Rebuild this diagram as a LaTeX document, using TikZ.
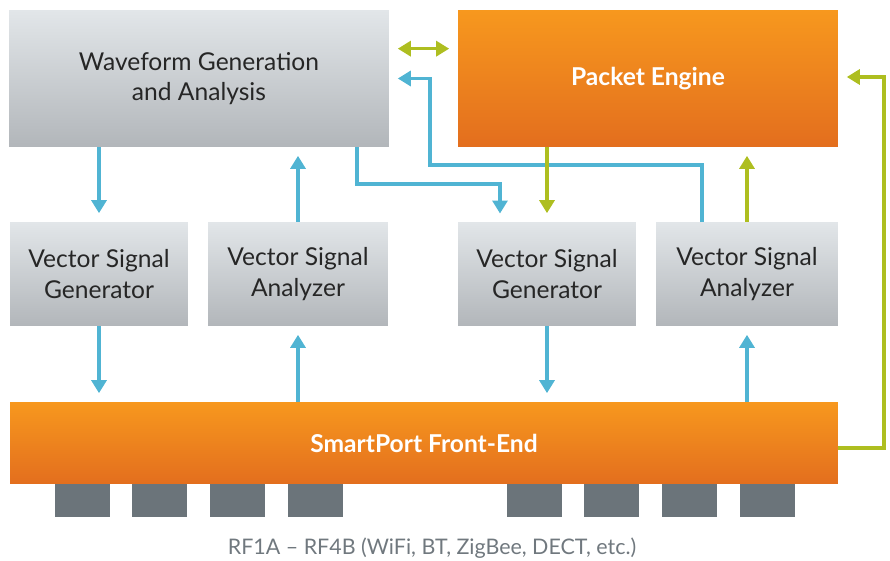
\documentclass[tikz,border=0pt]{standalone}
\usepackage{fontspec}
\setmainfont{Lato}
\usepackage{tikz}
\usetikzlibrary{arrows.meta, calc, positioning}
\definecolor{boxtop}{RGB}{226,230,233}
\definecolor{boxbot}{RGB}{178,182,186}
\definecolor{ortop}{RGB}{247,152,30}
\definecolor{orbot}{RGB}{227,110,30}
\definecolor{sigblue}{RGB}{80,180,211}
\definecolor{siggreen}{RGB}{174,190,32}
\definecolor{portgray}{RGB}{107,116,122}
\definecolor{txtgray}{RGB}{112,120,126}

\begin{document}
\begin{tikzpicture}[x=0.02cm, y=-0.02cm,
    graybox/.style={top color=boxtop, bottom color=boxbot, text=black!85, align=center, inner sep=0, font=\fontsize{14}{17.5}\selectfont},
    orangebox/.style={top color=ortop, bottom color=orbot, text=white, align=center, inner sep=0, font=\fontsize{14}{17.5}\selectfont\bfseries},
    port/.style={fill=portgray, minimum width=1.1cm, minimum height=0.66cm, inner sep=0},
    bluearrow/.style={draw=sigblue, line width=1.8pt, -{Triangle[width=0.3cm,length=0.26cm]}, shorten >=0.17cm},
    greenarrow/.style={draw=siggreen, line width=1.8pt, -{Triangle[width=0.3cm,length=0.26cm]}, shorten >=0.17cm}]

    \useasboundingbox (0,0) rectangle (890,561);

    % Top blocks
    \node[graybox, minimum width=7.6cm, minimum height=2.74cm] (wave) at (199,78.5) {Waveform Generation\\and Analysis};
    \node[orangebox, minimum width=7.6cm, minimum height=2.74cm] (packet) at (648,78.5) {\raisebox{-2pt}{Packet Engine}};

    % Signal generators / analyzers
    \node[graybox, minimum width=3.56cm, minimum height=2.08cm] (vsg1) at (99,274) {Vector Signal\\Generator};
    \node[graybox, minimum width=3.6cm, minimum height=2.08cm] (vsa1) at (298,274) {Vector Signal\\Analyzer};
    \node[graybox, minimum width=3.56cm, minimum height=2.08cm] (vsg2) at (547,274) {Vector Signal\\Generator};
    \node[graybox, minimum width=3.64cm, minimum height=2.08cm] (vsa2) at (747,274) {Vector Signal\\Analyzer};

    % Front-end and RF ports
    \node[orangebox, minimum width=16.56cm, minimum height=1.64cm] (front) at (424,443) {SmartPort Front-End};
    \foreach \px [count=\i] in {82.5,159.5,237.5,315.5,534.5,611.5,689.5,767.5}
        \node[port] (p\i) at (\px,500.5) {};
    \node[text=txtgray, font=\fontsize{12.2}{14.5}\selectfont] (caption) at (432,548) {RF1A – RF4B (WiFi, BT, ZigBee, DECT, etc.)};

    % Bend points
    \coordinate (wtap) at (357,147);
    \coordinate (gtap) at (500,222);
    \coordinate (atap) at (702,222);
    \coordinate (loop) at (884,77);

    % Waveform <-> instruments
    \draw[bluearrow] (wave.south -| vsg1.north) -- (vsg1.north);
    \draw[bluearrow] (vsa1.north) -- (vsa1.north |- wave.south);
    \draw[bluearrow] (wtap) -- ++(0,37) -| (gtap);
    \draw[bluearrow] (atap) |- (430,165) |- (wave.east);

    % Packet engine links
    \draw[greenarrow, {Triangle[width=0.3cm,length=0.26cm]}-{Triangle[width=0.3cm,length=0.26cm]}, shorten <=0.17cm]
        ($(wave.north east)+(0,39)$) -- ($(packet.north west)+(0,39)$);
    \draw[greenarrow] (packet.south -| vsg2.north) -- (vsg2.north);
    \draw[greenarrow] (vsa2.north) -- (vsa2.north |- packet.south);
    \draw[greenarrow] ($(front.east)+(0,5)$) -| (loop) -- (loop -| packet.east);

    % Instruments <-> front-end
    \draw[bluearrow] (vsg1.south) -- (vsg1.south |- front.north);
    \draw[bluearrow] (front.north -| vsa1.south) -- (vsa1.south);
    \draw[bluearrow] (vsg2.south) -- (vsg2.south |- front.north);
    \draw[bluearrow] (front.north -| vsa2.south) -- (vsa2.south);
\end{tikzpicture}
\end{document}
